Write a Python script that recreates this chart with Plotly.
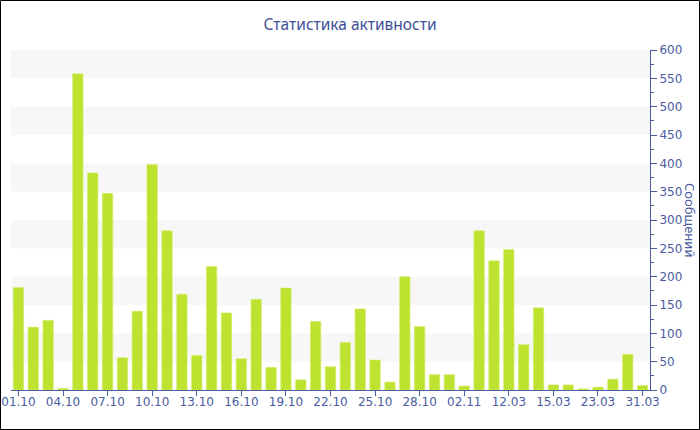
import plotly.graph_objects as go

dates = ["01.10", "02.10", "03.10", "04.10", "05.10", "06.10", "07.10", "08.10", "09.10",
         "10.10", "11.10", "12.10", "13.10", "14.10", "15.10", "16.10", "17.10", "18.10",
         "19.10", "20.10", "21.10", "22.10", "23.10", "24.10", "25.10", "26.10", "27.10",
         "28.10", "29.10", "31.10", "02.11", "03.11", "11.03", "12.03", "13.03", "14.03",
         "15.03", "17.03", "20.03", "23.03", "25.03", "28.03", "31.03"]
messages = [181, 111, 123, 3, 558, 383, 347, 57, 139,
            398, 281, 169, 61, 218, 136, 55, 160, 40,
            180, 18, 121, 41, 84, 143, 53, 14, 200,
            112, 27, 27, 7, 281, 228, 248, 80, 145,
            9, 9, 2, 5, 19, 63, 8]
tick_labels = dates[::3]

title_text = "Статистика активности"
y_title = "Сообщений"

axis_color = "#4a5c9e"
bar_color = "#bde22f"
font_family = "DejaVu Sans, Verdana, sans-serif"
title_family = "Noto Sans, Open Sans, sans-serif"

fig = go.Figure()
fig.add_trace(go.Bar(
    x=dates, y=messages,
    marker=dict(color=bar_color, line=dict(color="#d4ef6a", width=0.6)),
    showlegend=False,
))

shapes = []
for lo in range(50, 600, 100):
    shapes.append(dict(type="rect", xref="paper", yref="y", x0=0, x1=1, y0=lo, y1=lo + 50,
                       fillcolor="#f7f7f7", line=dict(width=0), layer="below"))

W, H = 700, 430
ml, mr, mt, mb = 11, 50, 50, 40
pw, ph = W - ml - mr, H - mt - mb
# outer border of the whole chart
shapes.append(dict(type="rect", xref="paper", yref="paper",
                   x0=(0.5 - ml) / pw, x1=(W - 0.5 - ml) / pw,
                   y0=-(mb - 0.5) / ph, y1=(H - mb - 0.5) / ph,
                   line=dict(color="#000000", width=1), fillcolor="rgba(0,0,0,0)", layer="above"))

fig.update_layout(
    width=W, height=H,
    margin=dict(l=ml, r=mr, t=mt, b=mb, autoexpand=False),
    paper_bgcolor="white", plot_bgcolor="white",
    font=dict(family=font_family, color=axis_color, size=12),
    title=dict(text=title_text, x=0.5, xref="container", y=1 - 25 / H, yref="container",
               yanchor="middle", xanchor="center",
               font=dict(size=15.5, color="#3d4f99", family=title_family)),
    bargap=0.3,
    shapes=shapes,
    annotations=[dict(text=y_title, xref="paper", yref="paper", x=1.0 + 40 / pw, y=0.5,
                      textangle=90, showarrow=False, xanchor="center", yanchor="middle",
                      font=dict(size=13, color=axis_color, family=title_family))],
    xaxis=dict(
        type="category", categoryorder="array", categoryarray=dates,
        range=[-0.5, len(dates) - 0.5], automargin=False,
        tickmode="array", tickvals=tick_labels, ticktext=tick_labels,
        ticks="outside", ticklen=5, tickcolor=axis_color, ticklabelstandoff=-4,
        showline=True, linecolor=axis_color, linewidth=1,
        showgrid=False, tickfont=dict(size=12, color=axis_color),
    ),
    yaxis=dict(
        side="right", range=[0, 600], dtick=50, tick0=0, automargin=False,
        ticks="outside", ticklen=6, tickcolor=axis_color,
        minor=dict(dtick=25, ticks="outside", ticklen=3, tickcolor=axis_color, showgrid=False),
        showline=True, linecolor=axis_color, linewidth=1,
        showgrid=False, zeroline=False, tickfont=dict(size=12, color=axis_color),
    ),
)

fig.write_html("out.html", config={"displayModeBar": False},
               post_script="document.body.style.margin='0';")
